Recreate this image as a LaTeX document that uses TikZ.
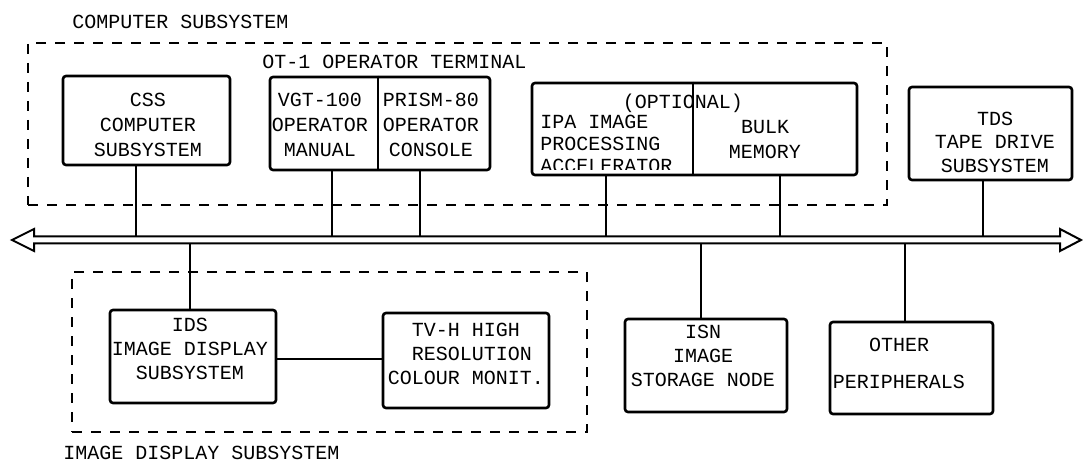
\documentclass[tikz,border=0pt]{standalone}
\usepackage{fontspec}
\setmainfont{Liberation Mono}
\begin{document}
\begin{tikzpicture}[x=0.5pt,y=-0.5pt,
  box/.style={draw, line width=1.3pt, rounded corners=1.5pt, inner sep=0pt},
  txt/.style={font=\fontsize{10}{12.5}\selectfont, align=center, inner sep=0pt},
  ltxt/.style={font=\fontsize{10}{11}\selectfont, align=left, inner sep=0pt, anchor=west},
  grp/.style={draw, dash pattern=on 5pt off 4.5pt, line width=0.9pt, inner sep=0pt},
  lbl/.style={font=\fontsize{10}{12}\selectfont, anchor=west, inner sep=0pt},
  conn/.style={line width=1pt},
  divider/.style={line width=1.1pt},
  busline/.style={line width=1pt, line join=miter}]
\useasboundingbox (0,0) rectangle (1083,465);

% group outlines
\node[grp, minimum width=429.5pt, minimum height=81pt] (cs) at (457.5,124) {};
\node[grp, minimum width=257.5pt, minimum height=80pt] (ig) at (329.5,352) {};
\node[lbl] (cslbl) at (72,22) {COMPUTER SUBSYSTEM};
\node[lbl] (otlbl) at (262,62) {OT-1 OPERATOR TERMINAL};
\node[lbl] (iglbl) at (63,453) {IMAGE DISPLAY SUBSYSTEM};

% top boxes
\node[box, minimum width=83.5pt, minimum height=44.5pt] (css) at (146.5,120.5) {};
\node[txt] (csst) at (148,125) {CSS\\COMPUTER\\SUBSYSTEM};

\node[box, minimum width=110pt, minimum height=46.5pt] (ot) at (380,123.5) {};
\coordinate (d1) at (378,0);
\draw[divider] (d1 |- ot.north) -- (d1 |- ot.south);
\node[txt] (vgt) at (320,125) {VGT-100\\OPERATOR\\MANUAL};
\node[txt] (prism) at (431,125) {PRISM-80\\OPERATOR\\CONSOLE};

\begin{scope}
\clip (532,83) rectangle (693,170);
\node[ltxt] (ipa) at (540,144) {IPA IMAGE\\PROCESSING\\ACCELERATOR};
\end{scope}
\node[box, minimum width=162.5pt, minimum height=46pt] (opt) at (694.5,129) {};
\coordinate (d2) at (693,0);
\draw[divider] (d2 |- opt.north) -- (d2 |- opt.south);
\node[txt] (optl) at (683,103) {(OPTIONAL)};
\node[txt] (bulk) at (765,140) {BULK\\MEMORY};

\node[box, minimum width=81.5pt, minimum height=46.5pt] (tds) at (990.5,133.5) {};
\node[txt, font=\fontsize{10}{11.75}\selectfont] (tdst) at (995,142) {TDS\\TAPE DRIVE\\SUBSYSTEM};

% bottom boxes
\node[box, minimum width=83pt, minimum height=46.5pt] (ids) at (193,356.5) {};
\node[txt, font=\fontsize{10}{12}\selectfont] (idst) at (190,349) {IDS\\IMAGE DISPLAY\\SUBSYSTEM};

\node[box, minimum width=83pt, minimum height=47.5pt] (tvh) at (466,360.5) {};
\node[txt, font=\fontsize{10}{12}\selectfont] (tvht) at (466,354) {TV-H HIGH\\\ RESOLUTION\\COLOUR MONIT.};

\node[box, minimum width=81pt, minimum height=46.5pt] (isn) at (706,365.5) {};
\node[txt, font=\fontsize{10}{12}\selectfont] (isnt) at (703,356) {ISN\\IMAGE\\STORAGE NODE};

\node[box, minimum width=81.5pt, minimum height=46pt] (oth) at (911.5,368) {};
\node[txt, font=\fontsize{10}{18.5}\selectfont] (otht) at (899,363) {OTHER\\PERIPHERALS};

% bus
\draw[busline, fill=white] (12,240) -- (34,229) -- (34,236.5) -- (1060,236.5) -- (1060,229)
  -- (1081,240) -- (1060,251) -- (1060,243.5) -- (34,243.5) -- (34,251) -- cycle;

% taps on the bus
\coordinate (t1) at (136,236.5);
\coordinate (t2) at (332,236.5);
\coordinate (t3) at (420,236.5);
\coordinate (t4) at (606,236.5);
\coordinate (t5) at (780,236.5);
\coordinate (t6) at (983,236.5);
\coordinate (b1) at (190,243.5);
\coordinate (b2) at (701,243.5);
\coordinate (b3) at (905,243.5);

\draw[conn] (t1) -- (t1 |- css.south);
\draw[conn] (t2) -- (t2 |- ot.south);
\draw[conn] (t3) -- (t3 |- ot.south);
\draw[conn] (t4) -- (t4 |- opt.south);
\draw[conn] (t5) -- (t5 |- opt.south);
\draw[conn] (t6) -- (t6 |- tds.south);
\draw[conn] (b1) -- (b1 |- ids.north);
\draw[conn] (b2) -- (b2 |- isn.north);
\draw[conn] (b3) -- (b3 |- oth.north);
\draw[conn] (ids.east |- 0,359) -- (tvh.west |- 0,359);
\end{tikzpicture}
\end{document}
